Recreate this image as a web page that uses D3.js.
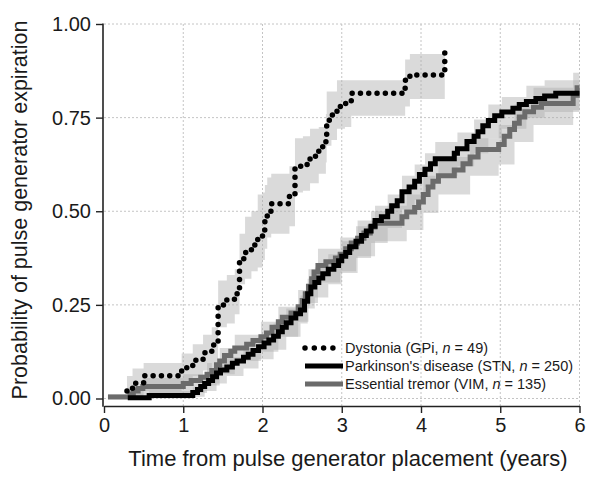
<!DOCTYPE html>
<html><head><meta charset="utf-8">
<script src="https://cdn.jsdelivr.net/npm/d3@7"></script>
<style>body{margin:0;background:#fff;} svg{display:block;font-family:"Liberation Sans",Arial,sans-serif;}</style>
</head><body><svg id="c" width="600" height="490"></svg>
<script>
// ---- data ----
const xTicks = [0, 1, 2, 3, 4, 5, 6];
const yTicks = [0, 0.25, 0.5, 0.75, 1];

// Dystonia (GPi)
const dysTime = [0.29,0.36,0.50,0.98,1.12,1.25,1.36,1.44,1.55,1.65,1.71,1.78,1.86,1.94,2.00,2.03,2.06,2.11,2.34,2.41,2.51,2.60,2.71,2.80,2.81,2.87,2.94,3.04,3.12,3.80,3.86,4.30];
const dysProb = [0.020,0.041,0.061,0.082,0.102,0.122,0.143,0.250,0.265,0.280,0.373,0.390,0.410,0.430,0.450,0.476,0.500,0.520,0.543,0.620,0.625,0.647,0.672,0.700,0.743,0.757,0.780,0.788,0.815,0.850,0.864,0.930];
const dysLo = [0.000,0.005,0.020,0.040,0.060,0.075,0.095,0.190,0.200,0.225,0.305,0.320,0.340,0.350,0.370,0.400,0.430,0.440,0.460,0.550,0.555,0.575,0.600,0.630,0.675,0.690,0.720,0.725,0.755,0.780,0.800,0.800];
const dysHi = [0.060,0.080,0.095,0.120,0.145,0.170,0.190,0.315,0.330,0.345,0.440,0.485,0.500,0.545,0.550,0.570,0.590,0.600,0.620,0.695,0.700,0.720,0.725,0.760,0.820,0.820,0.850,0.850,0.850,0.905,0.920,0.920];

// Parkinson's disease (STN)
const pdTime = [0.30,0.57,1.12,1.18,1.22,1.27,1.32,1.37,1.42,1.47,1.55,1.62,1.68,1.76,1.82,1.88,1.95,2.02,2.08,2.14,2.20,2.25,2.30,2.36,2.42,2.48,2.53,2.57,2.61,2.66,2.71,2.76,2.83,2.90,2.96,3.00,3.05,3.10,3.18,3.25,3.31,3.37,3.42,3.50,3.58,3.63,3.70,3.76,3.85,3.92,3.98,4.05,4.12,4.18,4.42,4.46,4.58,4.67,4.72,4.78,4.85,4.93,5.02,5.16,5.24,5.33,5.45,5.56,5.70,6.00];
const pdProb = [0.002,0.008,0.016,0.024,0.032,0.040,0.048,0.058,0.068,0.076,0.084,0.094,0.100,0.110,0.118,0.128,0.138,0.148,0.156,0.166,0.178,0.190,0.202,0.215,0.226,0.236,0.260,0.280,0.298,0.310,0.322,0.333,0.345,0.355,0.368,0.380,0.390,0.405,0.420,0.435,0.447,0.460,0.475,0.485,0.500,0.515,0.528,0.552,0.565,0.580,0.598,0.612,0.627,0.640,0.655,0.667,0.686,0.700,0.712,0.728,0.742,0.755,0.765,0.775,0.785,0.793,0.801,0.808,0.815,0.815];
const pdBandTime = [0.30,0.57,1.12,1.27,1.42,1.55,1.76,1.95,2.14,2.30,2.48,2.57,2.66,2.83,3.00,3.18,3.37,3.58,3.76,3.92,4.05,4.18,4.46,4.67,4.85,5.02,5.33,5.56,6.00];
const pdLo = [0,0,0.005,0.02,0.04,0.06,0.08,0.105,0.13,0.165,0.20,0.24,0.27,0.305,0.34,0.375,0.415,0.455,0.505,0.53,0.565,0.595,0.62,0.655,0.695,0.72,0.75,0.765,0.765];
const pdHi = [0.01,0.02,0.03,0.06,0.09,0.11,0.135,0.165,0.20,0.24,0.275,0.32,0.35,0.385,0.42,0.46,0.50,0.545,0.595,0.625,0.655,0.685,0.71,0.745,0.785,0.805,0.835,0.85,0.85];

// Essential tremor (VIM)
const etTime = [0.05,0.33,0.37,0.43,0.49,1.00,1.10,1.22,1.30,1.36,1.42,1.46,1.52,1.60,1.65,1.80,1.88,1.98,2.05,2.12,2.20,2.25,2.36,2.45,2.50,2.54,2.58,2.62,2.65,2.70,2.80,2.92,2.98,3.05,3.12,3.20,3.28,3.36,3.42,3.76,3.82,3.92,3.97,4.03,4.09,4.15,4.22,4.42,4.53,4.62,4.72,4.98,5.05,5.12,5.18,5.24,5.31,5.42,5.52,5.92,5.97,6.00];
const etProb = [0.004,0.012,0.020,0.027,0.032,0.040,0.048,0.057,0.065,0.075,0.090,0.100,0.115,0.126,0.135,0.145,0.155,0.165,0.175,0.190,0.205,0.217,0.228,0.245,0.262,0.280,0.300,0.320,0.338,0.355,0.365,0.375,0.385,0.400,0.415,0.428,0.442,0.458,0.468,0.485,0.498,0.510,0.525,0.545,0.565,0.580,0.595,0.610,0.627,0.645,0.665,0.678,0.700,0.718,0.735,0.752,0.766,0.778,0.788,0.810,0.830,0.830];
const etBandTime = [0.05,0.33,0.49,1.00,1.30,1.46,1.65,1.98,2.20,2.45,2.58,2.70,2.98,3.20,3.42,3.82,4.03,4.22,4.62,4.98,5.18,5.42,5.92,6.00];
const etLo = [0,0.002,0.01,0.015,0.035,0.065,0.10,0.125,0.165,0.205,0.255,0.31,0.335,0.38,0.42,0.45,0.495,0.545,0.595,0.625,0.685,0.73,0.77,0.77];
const etHi = [0.012,0.03,0.055,0.065,0.095,0.135,0.17,0.205,0.245,0.29,0.345,0.40,0.43,0.475,0.515,0.545,0.595,0.645,0.695,0.73,0.785,0.83,0.87,0.87];

const legendLabels = [
  ["Dystonia (GPi, ", "n", " = 49)"],
  ["Parkinson's disease (STN, ", "n", " = 250)"],
  ["Essential tremor (VIM, ", "n", " = 135)"]
];
const xTitle = "Time from pulse generator placement (years)";
const yTitle = "Probability of pulse generator expiration";

// ---- drawing ----
const svg = d3.select('#c');
const x = d3.scaleLinear().domain([0, 6]).range([104, 579.5]);
const y = d3.scaleLinear().domain([0, 1]).range([398.5, 24]);
const axisY = 406;
const txt = '#1a1a1a';

const zip = (t, v) => t.map((d, i) => ({t: d, v: v[i]}));
const zipBand = (t, lo, hi) => t.map((d, i) => ({t: d, lo: lo[i], hi: hi[i]}));

// grid
const grid = svg.append('g').attr('stroke', '#c4c4c4').attr('stroke-width', 1).attr('stroke-dasharray', '2,2');
grid.selectAll('line.v').data(xTicks.slice(1)).enter().append('line')
  .attr('x1', d => x(d)).attr('x2', d => x(d)).attr('y1', y(1)).attr('y2', axisY);
grid.selectAll('line.h').data(yTicks).enter().append('line')
  .attr('x1', x(0)).attr('x2', x(6)).attr('y1', d => y(d)).attr('y2', d => y(d));

// bands
const area = d3.area().curve(d3.curveStepAfter).x(d => x(d.t)).y0(d => y(d.lo)).y1(d => y(d.hi));
const bandFill = '#acacac', bandOp = 0.45;
svg.append('path').datum(zipBand(dysTime, dysLo, dysHi)).attr('d', area).attr('fill', bandFill).attr('fill-opacity', bandOp);
svg.append('path').datum(zipBand(etBandTime, etLo, etHi)).attr('d', area).attr('fill', bandFill).attr('fill-opacity', bandOp);
svg.append('path').datum(zipBand(pdBandTime, pdLo, pdHi)).attr('d', area).attr('fill', bandFill).attr('fill-opacity', bandOp);

// lines
const line = d3.line().curve(d3.curveStepAfter).x(d => x(d.t)).y(d => y(d.v));
const etColor = '#6b6b6b';
svg.append('path').datum(zip(etTime, etProb)).attr('d', line).attr('fill', 'none')
  .attr('stroke', etColor).attr('stroke-width', 5);
svg.append('path').datum(zip(pdTime, pdProb)).attr('d', line).attr('fill', 'none')
  .attr('stroke', '#000').attr('stroke-width', 5);
svg.append('path').datum(zip(dysTime, dysProb)).attr('d', line).attr('fill', 'none')
  .attr('stroke', '#000').attr('stroke-width', 5.5).attr('stroke-linecap', 'round').attr('stroke-dasharray', '0,8.3');

// axes
const xAxis = d3.axisBottom(x).tickValues(xTicks).tickSize(7).tickSizeOuter(0).tickPadding(5).tickFormat(d3.format('d'));
const gx = svg.append('g').attr('transform', `translate(0,${axisY})`).call(xAxis);
gx.select('.domain').attr('stroke', '#222').attr('stroke-width', 1.6);
gx.selectAll('.tick line').attr('stroke', '#222').attr('stroke-width', 1.4);
gx.selectAll('.tick text').attr('font-size', 20).attr('fill', txt).attr('font-family', '"Liberation Sans",Arial,sans-serif');

const yAxis = d3.axisLeft(y).tickValues(yTicks).tickSize(7).tickSizeOuter(0).tickPadding(5).tickFormat(d3.format('.2f'));
const gy = svg.append('g').attr('transform', `translate(${x(0) - 1},0)`).call(yAxis);
gy.select('.domain').remove();
gy.append('line').attr('x1', 0).attr('x2', 0).attr('y1', y(1) - 0.5).attr('y2', axisY + 0.8)
  .attr('stroke', '#222').attr('stroke-width', 1.6);
gy.selectAll('.tick line').attr('stroke', '#222').attr('stroke-width', 1.4);
gy.selectAll('.tick text').attr('font-size', 20).attr('fill', txt).attr('font-family', '"Liberation Sans",Arial,sans-serif');

// titles
svg.append('text').attr('x', 348).attr('y', 466).attr('text-anchor', 'middle')
  .attr('font-size', 22).attr('fill', txt).text(xTitle);
svg.append('text').attr('transform', 'translate(27,210) rotate(-90)').attr('text-anchor', 'middle')
  .attr('font-size', 21.5).attr('fill', txt).text(yTitle);

// legend
const legY = [348, 366, 384];
const leg = svg.append('g');
const styles = [
  {stroke: '#000', w: 5.5, dash: '0,9.3', cap: 'round'},
  {stroke: '#000', w: 5, dash: null, cap: 'butt'},
  {stroke: etColor, w: 5, dash: null, cap: 'butt'}
];
legendLabels.forEach((lab, i) => {
  const s = styles[i];
  const ln = leg.append('line').attr('x1', 305).attr('x2', s.dash ? 334 : 343)
    .attr('y1', legY[i]).attr('y2', legY[i]).attr('stroke', s.stroke).attr('stroke-width', s.w).attr('stroke-linecap', s.cap);
  if (s.dash) ln.attr('stroke-dasharray', s.dash);
  const t = leg.append('text').attr('x', 345).attr('y', legY[i]).attr('dy', '0.36em')
    .attr('font-size', 14.5).attr('fill', txt);
  t.append('tspan').text(lab[0]);
  t.append('tspan').attr('font-style', 'italic').text(lab[1]);
  t.append('tspan').text(lab[2]);
});
</script></body></html>
